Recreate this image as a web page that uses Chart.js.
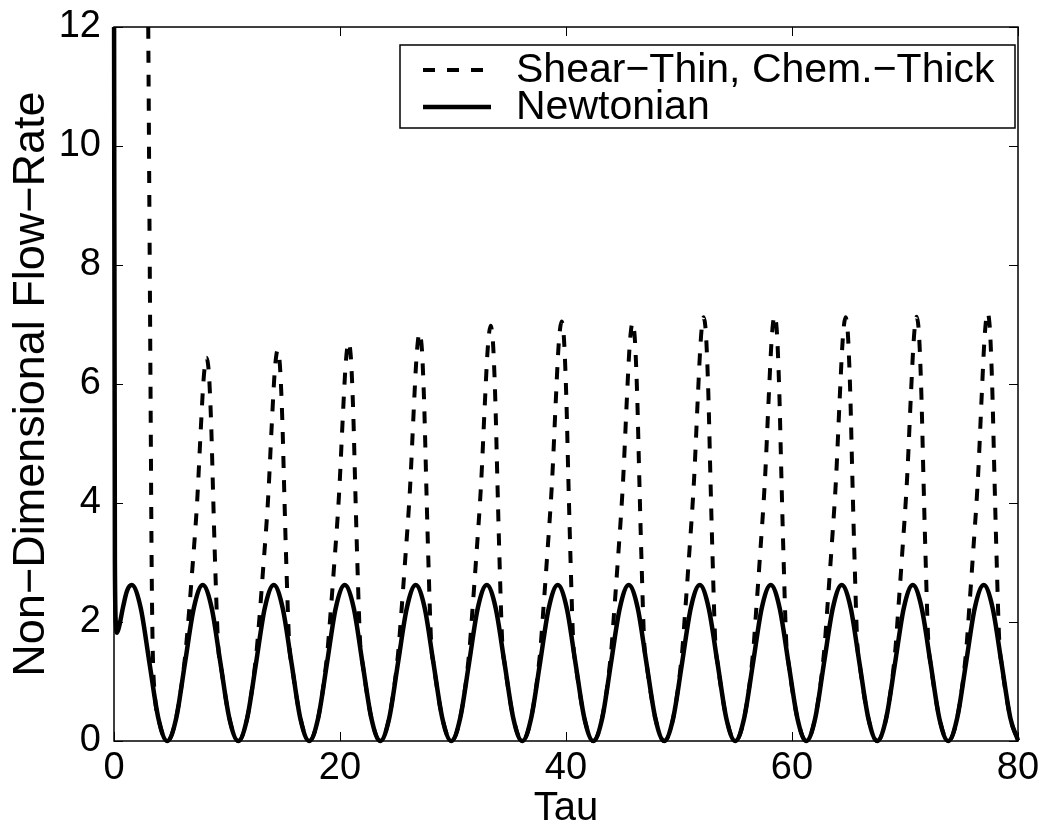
<!DOCTYPE html>
<html>
<head>
<meta charset="utf-8">
<script src="https://cdn.jsdelivr.net/npm/chart.js@4.4.1/dist/chart.umd.min.js"></script>
<style>
  html, body { margin: 0; padding: 0; background: #fff; }
  #wrap { width: 1045px; height: 831px; }
</style>
</head>
<body>
<div id="wrap"><canvas id="flowChart" width="1045" height="831"></canvas></div>
<script>
// Series labels
const seriesLabels = ['Shear\u2212Thin, Chem.\u2212Thick', 'Newtonian'];

// Axis ticks
const tauTicks = [0, 20, 40, 60, 80];
const flowTicks = [0, 2, 4, 6, 8, 10, 12];

// Newtonian curve
const newtonTau = [
    0, 0.08, 0.17, 0.27, 0.45, 0.80, 1.15,
    1.57, 2.36, 3.14, 3.93, 4.71, 5.50, 6.28, 7.07,
    7.85, 8.64, 9.42, 10.21, 11.00, 11.78, 12.57, 13.35,
    14.14, 14.92, 15.71, 16.49, 17.28, 18.06, 18.85, 19.63,
    20.42, 21.21, 21.99, 22.78, 23.56, 24.35, 25.13, 25.92,
    26.70, 27.49, 28.27, 29.06, 29.85, 30.63, 31.42, 32.20,
    32.99, 33.77, 34.56, 35.34, 36.13, 36.91, 37.70, 38.48,
    39.27, 40.06, 40.84, 41.63, 42.41, 43.20, 43.98, 44.77,
    45.55, 46.34, 47.12, 47.91, 48.69, 49.48, 50.27, 51.05,
    51.84, 52.62, 53.41, 54.19, 54.98, 55.76, 56.55, 57.33,
    58.12, 58.90, 59.69, 60.48, 61.26, 62.05, 62.83, 63.62,
    64.40, 65.19, 65.97, 66.76, 67.54, 68.33, 69.12, 69.90,
    70.69, 71.47, 72.26, 73.04, 73.83, 74.61, 75.40, 76.18,
    76.97, 77.75, 78.54, 79.33, 80.00
];
const newtonFlow = [
    13, 3.0, 1.95, 1.82, 1.92, 2.25, 2.52,
    2.62, 2.24, 1.31, 0.38, 0, 0.38, 1.31, 2.24,
    2.62, 2.24, 1.31, 0.38, 0, 0.38, 1.31, 2.24,
    2.62, 2.24, 1.31, 0.38, 0, 0.38, 1.31, 2.24,
    2.62, 2.24, 1.31, 0.38, 0, 0.38, 1.31, 2.24,
    2.62, 2.24, 1.31, 0.38, 0, 0.38, 1.31, 2.24,
    2.62, 2.24, 1.31, 0.38, 0, 0.38, 1.31, 2.24,
    2.62, 2.24, 1.31, 0.38, 0, 0.38, 1.31, 2.24,
    2.62, 2.24, 1.31, 0.38, 0, 0.38, 1.31, 2.24,
    2.62, 2.24, 1.31, 0.38, 0, 0.38, 1.31, 2.24,
    2.62, 2.24, 1.31, 0.38, 0, 0.38, 1.31, 2.24,
    2.62, 2.24, 1.31, 0.38, 0, 0.38, 1.31, 2.24,
    2.62, 2.24, 1.31, 0.38, 0, 0.38, 1.31, 2.24,
    2.62, 2.24, 1.31, 0.38, 0.01
];

// Shear-thin / chem-thick curve (one line per pulse)
const shearTau = [
    0, 2.90, 3.03, 3.13, 3.23, 3.33, 3.42, 3.60, 3.93, 4.71,
    5.49, 6.28, 6.58, 6.88, 7.35, 7.67, 7.90, 8.05, 8.19, 8.33, 8.43, 8.61, 8.79, 8.96, 9.23, 9.42, 10.21, 11.00,
    11.78, 12.57, 12.87, 13.17, 13.64, 13.96, 14.19, 14.34, 14.48, 14.62, 14.72, 14.90, 15.08, 15.25, 15.52, 15.71, 16.50, 17.28,
    18.06, 18.85, 19.15, 19.45, 19.92, 20.24, 20.47, 20.62, 20.76, 20.90, 21.00, 21.18, 21.36, 21.53, 21.80, 21.99, 22.78, 23.56,
    24.34, 25.13, 25.43, 25.73, 26.20, 26.52, 26.75, 26.90, 27.04, 27.18, 27.28, 27.46, 27.64, 27.81, 28.08, 28.27, 29.06, 29.85,
    30.63, 31.42, 31.72, 32.02, 32.49, 32.81, 33.04, 33.19, 33.33, 33.47, 33.57, 33.75, 33.93, 34.10, 34.37, 34.56, 35.35, 36.13,
    36.91, 37.70, 38.00, 38.30, 38.77, 39.09, 39.32, 39.47, 39.61, 39.75, 39.85, 40.03, 40.21, 40.38, 40.65, 40.84, 41.63, 42.41,
    43.19, 43.98, 44.28, 44.58, 45.05, 45.37, 45.60, 45.75, 45.89, 46.03, 46.13, 46.31, 46.49, 46.66, 46.93, 47.12, 47.91, 48.69,
    49.48, 50.27, 50.57, 50.87, 51.34, 51.66, 51.89, 52.04, 52.18, 52.32, 52.42, 52.60, 52.78, 52.95, 53.22, 53.41, 54.20, 54.98,
    55.76, 56.55, 56.85, 57.15, 57.62, 57.94, 58.17, 58.32, 58.46, 58.60, 58.70, 58.88, 59.06, 59.23, 59.50, 59.69, 60.48, 61.26,
    62.04, 62.83, 63.13, 63.43, 63.90, 64.22, 64.45, 64.60, 64.74, 64.88, 64.98, 65.16, 65.34, 65.51, 65.78, 65.97, 66.76, 67.54,
    68.33, 69.12, 69.42, 69.72, 70.19, 70.51, 70.74, 70.89, 71.03, 71.17, 71.27, 71.45, 71.63, 71.80, 72.07, 72.26, 73.05, 73.83,
    74.61, 75.40, 75.70, 76.00, 76.47, 76.79, 77.02, 77.17, 77.31, 77.45, 77.55, 77.73, 77.91, 78.08, 78.35, 78.54, 79.33, 80.00
];
const shearFlow = [
    60, 15, 12, 9.0, 6.0, 3.0, 1.6, 0.8, 0.38, 0,
    0.38, 1.40, 2.03, 2.76, 4.00, 5.20, 6.00, 6.32, 6.44, 6.32, 6.08, 5.26, 4.02, 2.91, 1.56, 1.31, 0.38, 0,
    0.38, 1.42, 2.07, 2.82, 4.08, 5.31, 6.12, 6.45, 6.57, 6.45, 6.20, 5.37, 4.10, 2.97, 1.58, 1.31, 0.38, 0,
    0.38, 1.43, 2.11, 2.87, 4.16, 5.41, 6.24, 6.58, 6.70, 6.58, 6.33, 5.47, 4.18, 3.03, 1.59, 1.31, 0.38, 0,
    0.38, 1.45, 2.16, 2.94, 4.26, 5.54, 6.39, 6.73, 6.86, 6.73, 6.48, 5.60, 4.28, 3.10, 1.60, 1.31, 0.38, 0,
    0.38, 1.46, 2.20, 2.99, 4.34, 5.64, 6.50, 6.85, 6.98, 6.85, 6.59, 5.70, 4.36, 3.15, 1.61, 1.31, 0.38, 0,
    0.38, 1.47, 2.22, 3.02, 4.38, 5.69, 6.57, 6.92, 7.05, 6.92, 6.66, 5.76, 4.40, 3.19, 1.62, 1.31, 0.38, 0,
    0.38, 1.47, 2.22, 3.01, 4.37, 5.68, 6.55, 6.90, 7.03, 6.90, 6.64, 5.74, 4.39, 3.18, 1.62, 1.31, 0.38, 0,
    0.38, 1.48, 2.24, 3.05, 4.42, 5.75, 6.63, 6.99, 7.12, 6.99, 6.72, 5.82, 4.44, 3.22, 1.63, 1.31, 0.38, 0,
    0.38, 1.48, 2.25, 3.06, 4.44, 5.77, 6.66, 7.02, 7.15, 7.02, 6.75, 5.84, 4.46, 3.23, 1.63, 1.31, 0.38, 0,
    0.38, 1.48, 2.24, 3.05, 4.42, 5.75, 6.63, 6.99, 7.12, 6.99, 6.72, 5.82, 4.44, 3.22, 1.63, 1.31, 0.38, 0,
    0.38, 1.48, 2.25, 3.06, 4.43, 5.76, 6.64, 7.00, 7.13, 7.00, 6.73, 5.82, 4.45, 3.22, 1.63, 1.31, 0.38, 0,
    0.38, 1.49, 2.27, 3.09, 4.47, 5.81, 6.71, 7.07, 7.20, 7.07, 6.80, 5.88, 4.49, 3.25, 1.64, 1.31, 0.38, 0.01
];

const FONT = 'Liberation Sans, Arial, Helvetica, sans-serif';

const toPoints = (xs, ys) => xs.map((x, i) => ({ x: x, y: ys[i] }));

// box round the axes and MATLAB-style inward ticks
const boxTicks = {
    id: 'boxTicks',
    afterDatasetsDraw(chart) {
        const { ctx, chartArea: a, scales: { x, y } } = chart;
        const len = 9;
        ctx.save();
        ctx.strokeStyle = '#000';
        ctx.lineWidth = 1;
        ctx.beginPath();
        tauTicks.forEach(v => {
            const px = Math.round(x.getPixelForValue(v)) + 0.5;
            ctx.moveTo(px, a.bottom); ctx.lineTo(px, a.bottom - len);
            ctx.moveTo(px, a.top); ctx.lineTo(px, a.top + len);
        });
        flowTicks.forEach(v => {
            const py = Math.round(y.getPixelForValue(v)) + 0.5;
            ctx.moveTo(a.left, py); ctx.lineTo(a.left + len, py);
            ctx.moveTo(a.right, py); ctx.lineTo(a.right - len, py);
        });
        ctx.stroke();
        ctx.lineWidth = 1.5;
        ctx.strokeRect(a.left, a.top, a.right - a.left, a.bottom - a.top);
        ctx.restore();
    }
};

// legend box in the upper right corner of the axes
const boxLegend = {
    id: 'boxLegend',
    afterDraw(chart) {
        const { ctx } = chart;
        const left = 400, top = 45, right = 1015, bottom = 128;
        const rows = [70, 107];
        ctx.save();
        ctx.fillStyle = '#fff';
        ctx.fillRect(left, top, right - left, bottom - top);
        ctx.strokeStyle = '#000';
        ctx.lineWidth = 1.5;
        ctx.strokeRect(left, top, right - left, bottom - top);
        chart.data.datasets.forEach((ds, i) => {
            const yy = rows[i];
            ctx.beginPath();
            ctx.setLineDash(ds.borderDash || []);
            ctx.lineWidth = ds.borderWidth;
            ctx.strokeStyle = ds.borderColor;
            ctx.moveTo(423, yy);
            ctx.lineTo(491, yy);
            ctx.stroke();
            ctx.setLineDash([]);
            ctx.fillStyle = '#000';
            ctx.font = '41px ' + FONT;
            ctx.textBaseline = 'middle';
            ctx.textAlign = 'left';
            ctx.fillText(ds.label, 516, yy + 1);
        });
        ctx.restore();
    }
};

const ctx = document.getElementById('flowChart').getContext('2d');
const flowChart = new Chart(ctx, {
    type: 'line',
    data: {
        datasets: [{
            label: seriesLabels[0],
            data: toPoints(shearTau, shearFlow),
            borderColor: '#000',
            borderWidth: 4,
            borderDash: [12, 12],
            borderCapStyle: 'butt',
            pointRadius: 0,
            cubicInterpolationMode: 'monotone',
            fill: false,
            clip: { left: 3, right: 3, top: 0, bottom: 3 }
        }, {
            label: seriesLabels[1],
            data: toPoints(newtonTau, newtonFlow),
            borderColor: '#000',
            borderWidth: 4.5,
            pointRadius: 0,
            cubicInterpolationMode: 'monotone',
            fill: false,
            clip: { left: 3, right: 3, top: 0, bottom: 3 }
        }]
    },
    options: {
        responsive: false,
        animation: false,
        devicePixelRatio: 1,
        layout: { padding: { top: 27, right: 27, bottom: 0, left: 0 } },
        scales: {
            x: {
                type: 'linear',
                min: 0,
                max: 80,
                afterBuildTicks: (s) => { s.ticks = tauTicks.map(v => ({ value: v })); },
                afterFit: (s) => { s.height = 90; s.paddingLeft = 0; s.paddingRight = 0; },
                grid: { display: false, drawTicks: false },
                border: { display: false },
                ticks: {
                    color: '#000',
                    padding: 5,
                    maxRotation: 0,
                    font: { family: FONT, size: 38 }
                },
                title: {
                    display: true,
                    text: 'Tau',
                    color: '#000',
                    padding: { top: 0, bottom: -2 },
                    font: { family: FONT, size: 40 }
                }
            },
            y: {
                type: 'linear',
                min: 0,
                max: 12,
                afterBuildTicks: (s) => { s.ticks = flowTicks.map(v => ({ value: v })); },
                afterFit: (s) => { s.width = 114; s.paddingTop = 0; s.paddingBottom = 0; },
                grid: { display: false, drawTicks: false },
                border: { display: false },
                ticks: {
                    color: '#000',
                    padding: 13,
                    font: { family: FONT, size: 38 }
                },
                title: {
                    display: true,
                    text: 'Non\u2212Dimensional Flow\u2212Rate',
                    color: '#000',
                    padding: { top: 5, bottom: 0 },
                    font: { family: FONT, size: 45 }
                }
            }
        },
        plugins: {
            legend: { display: false },
            tooltip: { enabled: false }
        }
    },
    plugins: [boxTicks, boxLegend]
});
</script>
</body>
</html>
